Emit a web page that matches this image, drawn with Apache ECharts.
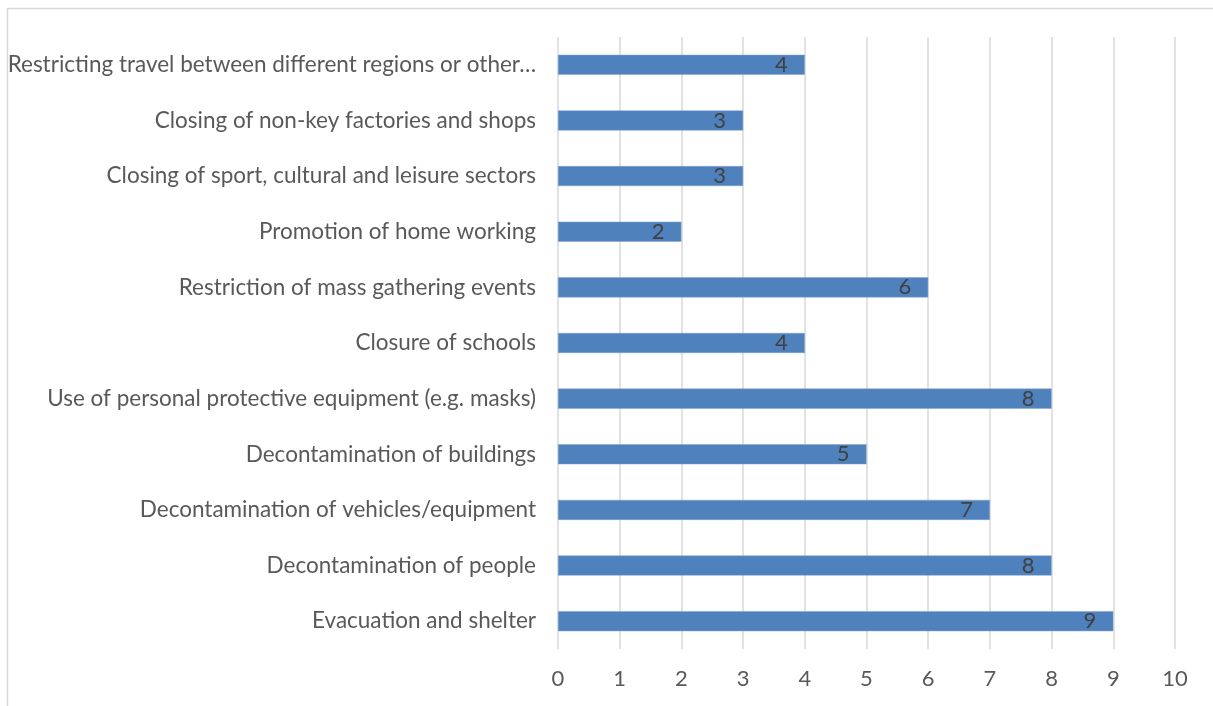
<!DOCTYPE html>
<html>
<head>
<meta charset="utf-8">
<script src="https://cdn.jsdelivr.net/npm/echarts@6/dist/echarts.min.js"></script>
<style>
  html, body { margin: 0; padding: 0; background: #fff; }
  #chart { width: 1213px; height: 706px; }
</style>
</head>
<body>
<div id="chart"></div>
<script>
// Measures, listed bottom to top as they appear on the category axis
const categories = [
  'Evacuation and shelter',
  'Decontamination of people',
  'Decontamination of vehicles/equipment',
  'Decontamination of buildings',
  'Use of personal protective equipment (e.g. masks)',
  'Closure of schools',
  'Restriction of mass gathering events',
  'Promotion of home working',
  'Closing of sport, cultural and leisure sectors',
  'Closing of non-key factories and shops',
  'Restricting travel between different regions or other\u2026'
];
const counts = [9, 8, 7, 5, 8, 4, 6, 2, 3, 3, 4];
const xTicks = [0, 1, 2, 3, 4, 5, 6, 7, 8, 9, 10];

const FONT = 'Lato, "Open Sans", sans-serif';

const chart = echarts.init(document.getElementById('chart'), null, { renderer: 'canvas' });
chart.setOption({
  animation: false,
  backgroundColor: '#ffffff',
  graphic: [{
    type: 'rect',
    shape: { x: 7.5, y: 8.5, width: 1400, height: 900 },
    style: { fill: 'none', stroke: '#d9d9d9', lineWidth: 1.5 },
    silent: true
  }],
  grid: { left: 558, right: 38, top: 37, bottom: 57, containLabel: false },
  xAxis: {
    type: 'value',
    min: xTicks[0],
    max: xTicks[xTicks.length - 1],
    interval: 1,
    axisLine: { show: false },
    axisTick: { show: false },
    axisLabel: { color: '#595959', fontSize: 22, fontFamily: FONT, margin: 19 },
    splitLine: { show: true, lineStyle: { color: '#d9d9d9', width: 1.5 } }
  },
  yAxis: {
    type: 'category',
    data: categories,
    axisLine: { show: false },
    axisTick: { show: false },
    axisLabel: { color: '#595959', fontSize: 22.5, fontFamily: FONT, margin: 22 }
  },
  series: [{
    type: 'bar',
    data: counts,
    barCategoryGap: '64%',
    itemStyle: { color: '#4f81bd', borderColor: '#7ea3cf', borderWidth: 0.5 },
    label: {
      show: true,
      position: 'insideRight',
      distance: 17,
      color: '#404040',
      fontSize: 22,
      fontFamily: FONT
    }
  }]
});
</script>
</body>
</html>
